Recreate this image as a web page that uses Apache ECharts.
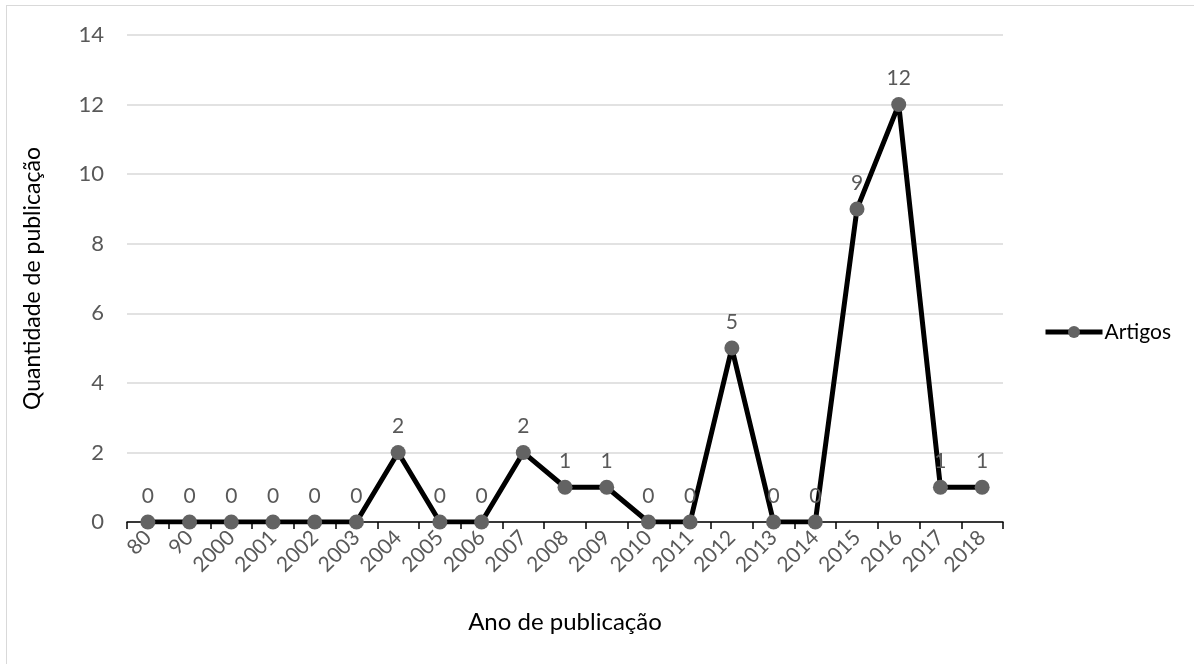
<!DOCTYPE html>
<html><head><meta charset="utf-8">
<script src="https://cdn.jsdelivr.net/npm/echarts@6/dist/echarts.min.js"></script>
<style>html,body{margin:0;padding:0;background:#fff}#c{width:1194px;height:664px}
#frame{position:absolute;left:6px;top:5px;width:1200px;height:700px;border:1.5px solid #d9d9d9;box-sizing:border-box;pointer-events:none}</style>
</head><body><div id="c"></div><div id="frame"></div>
<script>
const categories = ['80','90','2000','2001','2002','2003','2004','2005','2006','2007','2008','2009','2010','2011','2012','2013','2014','2015','2016','2017','2018'];
const artigos = [0,0,0,0,0,0,2,0,0,2,1,1,0,0,5,0,0,9,12,1,1];
const yTicks = {min:0, max:14, interval:2};
const FONT = 'Lato';
const chart = echarts.init(document.getElementById('c'));
chart.setOption({
  animation:false,
  textStyle:{fontFamily:FONT},
  grid:{left:127,right:191,top:35,bottom:142},
  legend:{
    data:['Artigos'], left:1038, top:'middle', orient:'vertical',
    itemWidth:57, itemHeight:15, itemGap:0,
    lineStyle:{width:5,color:'#000'},
    textStyle:{fontFamily:FONT,fontSize:21,color:'#000',padding:[0,0,0,-3]}
  },
  xAxis:{
    type:'category', data:categories, boundaryGap:true,
    name:'Ano de publicação', nameLocation:'middle', nameGap:88,
    nameTextStyle:{fontFamily:FONT,fontSize:24,color:'#000'},
    axisLine:{lineStyle:{color:'#000',width:1.5}},
    axisTick:{show:true,length:7,lineStyle:{color:'#000',width:1.5}},
    axisLabel:{rotate:45,fontSize:21,color:'#595959',margin:12,fontFamily:FONT}
  },
  yAxis:{
    type:'value', min:yTicks.min, max:yTicks.max, interval:yTicks.interval,
    name:'Quantidade de publicação', nameLocation:'middle', nameGap:83,
    nameTextStyle:{fontFamily:FONT,fontSize:23,color:'#000'},
    axisLine:{show:false}, axisTick:{show:false},
    axisLabel:{fontSize:22,color:'#595959',margin:23,fontFamily:FONT},
    splitLine:{lineStyle:{color:'#d9d9d9',width:1.5}}
  },
  series:[{
    name:'Artigos', type:'line', data:artigos,
    lineStyle:{color:'#000',width:5},
    itemStyle:{color:'#636363'},
    symbol:'circle', symbolSize:15,
    label:{show:true,position:'top',distance:8,fontSize:21,color:'#595959',fontFamily:FONT}
  }]
});
</script>
</body></html>
